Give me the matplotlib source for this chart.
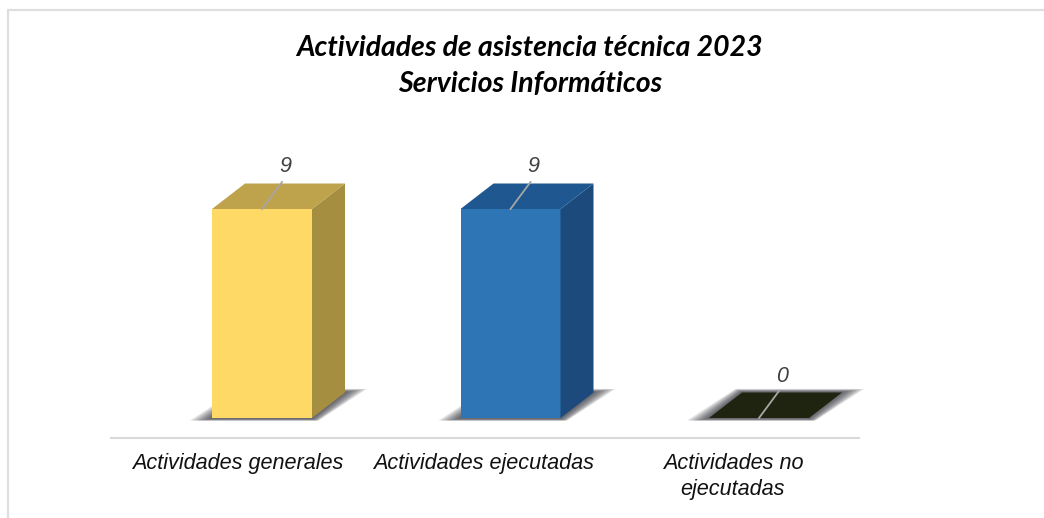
"""Actividades de asistencia tecnica 2023 - barras con efecto 3D"""
import matplotlib
matplotlib.use("Agg")
import matplotlib.pyplot as plt
from matplotlib.patches import Polygon
from matplotlib.lines import Line2D

W, H = 1044, 518

categorias = ["Actividades generales", "Actividades ejecutadas", "Actividades no\nejecutadas"]
valores = [9, 9, 0]
color_frente = ["#FFD966", "#2E75B6", "#1E2410"]
color_tapa = ["#BFA34C", "#1F5790", "#1E2410"]
color_lado = ["#A58E40", "#1C4A7C", "#1E2410"]

fig = plt.figure(figsize=(W / 100, H / 100), dpi=100)
ax = fig.add_axes([0, 0, 1, 1])
ax.axis("off")

# escala: categoria 0 en x=262 px, paso 248.5 px; valor 0 en y=418 px, valor 9 en y=209 px
PX_X = 248.5
PX_Y = (418 - 209) / 9
ax.set_xlim(-262 / PX_X, (W - 262) / PX_X)
ax.set_ylim((418 - H) / PX_Y, 418 / PX_Y)

ANCHO = 100 / PX_X
DX = 33 / PX_X
DY = 25.5 / PX_Y

# las etiquetas del eje no estan centradas bajo las barras
ETIQ_X = [238, 484, 733]
ETIQ_Y = [463, 463, 476.5]


def sombra(x0, x1):
    # sombra difusa en el piso, capas superpuestas que se van ensanchando
    for e in [22, 19.5, 17, 14.5, 12, 9.5, 7, 4.5, 2]:
        ex = e / PX_X
        sube = (e * 0.14 + 0.5) / PX_Y
        baja = min(e * 0.15 + 0.5, 2.5) / PX_Y
        pts = [(x0 - ex, -baja), (x0 + DX - ex * 0.3, DY + sube),
               (x1 + DX + ex, DY + sube), (x1 + ex * 0.3, -baja)]
        ax.add_patch(Polygon(pts, closed=True, facecolor="#303038", edgecolor="none",
                             alpha=0.13, zorder=1))


for i, (etiq, val) in enumerate(zip(categorias, valores)):
    x0 = i - ANCHO / 2
    x1 = i + ANCHO / 2
    sombra(x0, x1)
    if val > 0:
        ax.bar(i, val, width=ANCHO, color=color_frente[i], linewidth=0, zorder=3)
        ax.add_patch(Polygon([(x1, 0), (x1 + DX, DY), (x1 + DX, val + DY), (x1, val)],
                             closed=True, facecolor=color_lado[i], edgecolor="none", zorder=3))
    ax.add_patch(Polygon([(x0, val), (x0 + DX, val + DY), (x1 + DX, val + DY), (x1, val)],
                         closed=True, facecolor=color_tapa[i], edgecolor="none", zorder=3))

    # linea guia y etiqueta de dato
    ax.plot([i, i + 20 / PX_X], [val, val + 27 / PX_Y], color="#A6A6A6", linewidth=1.3, zorder=4)
    ax.text(i + 23 / PX_X, val + 42 / PX_Y, str(val), ha="center", va="center", fontsize=15.5,
            style="italic", color="#404040", family="Liberation Sans", zorder=5)

    fig.text(ETIQ_X[i] / W, 1 - ETIQ_Y[i] / H, etiq, ha="center", va="center", fontsize=15.6,
             style="italic", color="#111111", family="Liberation Sans", linespacing=1.3)

# eje
fig.add_artist(Line2D([111 / W, 859 / W], [1 - 437.5 / H] * 2, color="#D9D9D9", linewidth=1.5))

# marco del grafico
fig.add_artist(Line2D([8 / W, 8 / W, 1], [0, 1 - 9.5 / H, 1 - 9.5 / H], color="#DEDEDE", linewidth=1.6))

fig.text(529.5 / W, 1 - 48.5 / H, "Actividades de asistencia técnica 2023", ha="center", va="center",
         fontsize=20.4, style="italic", fontweight="bold", family="Lato", color="black")
fig.text(530 / W, 1 - 84 / H, "Servicios Informáticos", ha="center", va="center",
         fontsize=20.5, style="italic", fontweight="bold", family="Lato", color="black")

fig.savefig("out.png", dpi=100, facecolor="white")
